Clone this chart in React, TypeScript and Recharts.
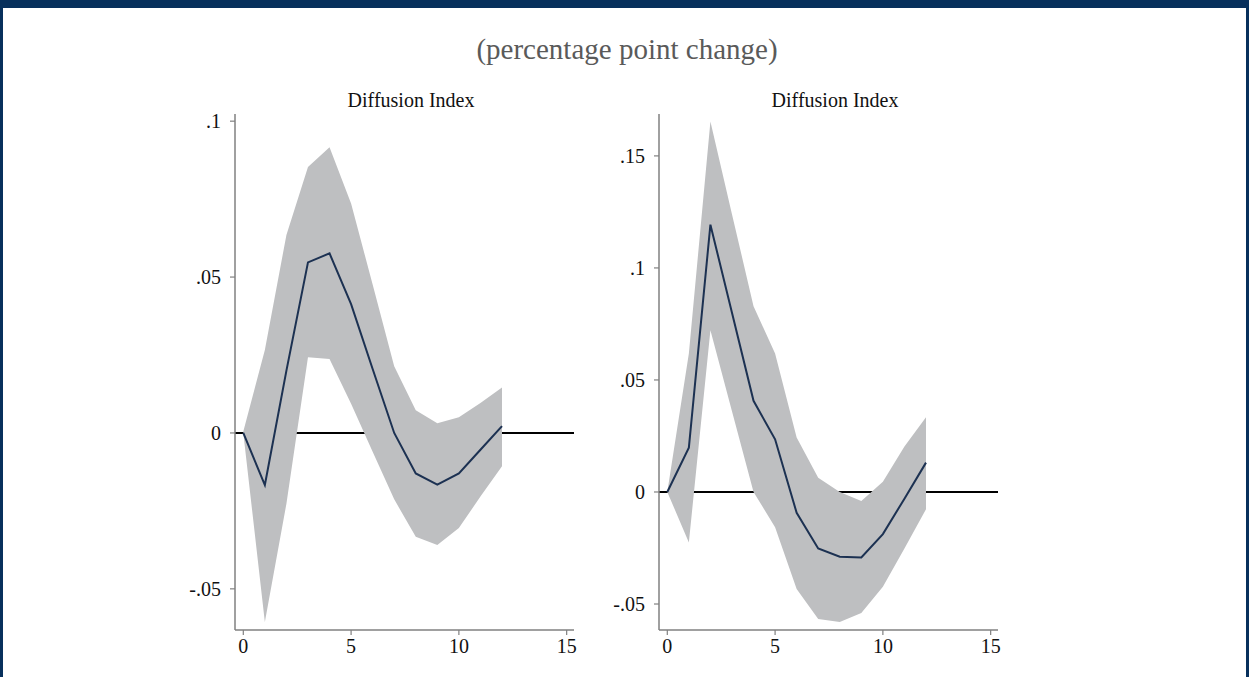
import { ComposedChart, Area, Line, XAxis, YAxis } from 'recharts';

const steps = [0, 1, 2, 3, 4, 5, 6, 7, 8, 9, 10, 11, 12];

// left panel
const leftMean = [0, -0.0167, 0.02, 0.0547, 0.0576, 0.0413, 0.0205, 0, -0.013, -0.0166, -0.013, -0.0054, 0.0022];
const leftUpper = [0.0005, 0.0266, 0.0635, 0.0853, 0.0916, 0.0736, 0.0476, 0.0214, 0.0073, 0.0031, 0.005, 0.0096, 0.0146];
const leftLower = [0, -0.0606, -0.0227, 0.0243, 0.0237, 0.0094, -0.006, -0.0213, -0.0333, -0.0359, -0.0305, -0.0204, -0.0107];
const leftTicks = [-0.05, 0, 0.05, 0.1];

// right panel
const rightMean = [0, 0.0198, 0.1193, 0.08, 0.0407, 0.0235, -0.0093, -0.0252, -0.0289, -0.0292, -0.0188, -0.003, 0.0131];
const rightUpper = [0, 0.0618, 0.1653, 0.124, 0.0829, 0.0618, 0.0243, 0.0064, 0, -0.004, 0.0046, 0.0203, 0.0334];
const rightLower = [0, -0.0225, 0.0722, 0.036, 0, -0.0157, -0.0433, -0.0567, -0.058, -0.054, -0.0423, -0.0252, -0.0077];
const rightTicks = [-0.05, 0, 0.05, 0.1, 0.15];

const xTicks = [0, 5, 10, 15];
const xDomain = [-0.385, 15.34];
const zeroLine = xDomain.map(x => ({ step: x, zero: 0 }));

const NAVY = '#07305c';
const BAND = '#bebfc1';
const LINE = '#1c3152';
const AXIS = '#808080';
const FONT = '"Liberation Serif", "DejaVu Serif", serif';

const fmt = (v: number) => (v === 0 ? '0' : String(v).replace('0.', '.'));

function build(mean: number[], lo: number[], hi: number[]) {
  return steps.map((s, i) => ({ step: s, mean: mean[i], band: [lo[i], hi[i]] }));
}

function Panel({ data, yDomain, yTicks, left, yWidth, right }: any) {
  const tick = { fill: '#111', fontSize: 20, fontFamily: FONT };
  return (
    <div style={{ position: 'absolute', left, top: 100 }}>
      <ComposedChart width={440} height={577} data={data} margin={{ top: 14, right, bottom: 7, left: 0 }}>
        <XAxis
          type="number"
          dataKey="step"
          domain={xDomain}
          ticks={xTicks}
          allowDataOverflow
          height={40}
          tickSize={5}
          tickMargin={4}
          tick={tick}
          axisLine={{ stroke: AXIS, strokeWidth: 1.5 }}
          tickLine={{ stroke: AXIS, strokeWidth: 1.2 }}
        />
        <YAxis
          type="number"
          domain={yDomain}
          ticks={yTicks}
          allowDataOverflow
          width={yWidth}
          tickSize={5}
          tickMargin={9}
          tickFormatter={fmt}
          tick={tick}
          axisLine={{ stroke: AXIS, strokeWidth: 1.5 }}
          tickLine={{ stroke: AXIS, strokeWidth: 1.2 }}
        />
        <Line data={zeroLine} dataKey="zero" stroke="#000" strokeWidth={2} dot={false} zIndex={50} isAnimationActive={false} />
        <Area dataKey="band" stroke="none" fill={BAND} fillOpacity={1} zIndex={100} isAnimationActive={false} />
        <Line dataKey="mean" stroke={LINE} strokeWidth={2} dot={false} zIndex={200} isAnimationActive={false} />
      </ComposedChart>
    </div>
  );
}

export default function App() {
  const leftData = build(leftMean, leftLower, leftUpper);
  const rightData = build(rightMean, rightLower, rightUpper);
  const sub = {
    position: 'absolute' as const,
    top: 90,
    width: 300,
    textAlign: 'center' as const,
    fontFamily: FONT,
    fontSize: 20,
    lineHeight: '20px',
    color: '#111',
  };
  return (
    <div style={{ position: 'absolute', left: 0, top: 0, width: 1249, height: 677, background: '#fff', overflow: 'hidden' }}>
      <div style={{ position: 'absolute', left: 0, top: 0, width: 1249, height: 8, background: NAVY }} />
      <div style={{ position: 'absolute', left: 0, top: 0, width: 3, height: 677, background: NAVY }} />
      <div style={{ position: 'absolute', right: 0, top: 0, width: 3, height: 677, background: NAVY }} />
      <div
        style={{
          position: 'absolute',
          left: 327,
          top: 35,
          width: 600,
          textAlign: 'center',
          fontFamily: FONT,
          fontSize: 29,
          lineHeight: '29px',
          color: '#5a5a5a',
        }}
      >
        (percentage point change)
      </div>
      <div style={{ ...sub, left: 411 - 150 }}>Diffusion Index</div>
      <div style={{ ...sub, left: 835 - 150 }}>Diffusion Index</div>
      <Panel data={leftData} yDomain={[-0.0632, 0.1023]} yTicks={leftTicks} left={150} yWidth={85} right={16} />
      <Panel data={rightData} yDomain={[-0.0616, 0.1687]} yTicks={rightTicks} left={575} yWidth={84} right={17} />
    </div>
  );
}
